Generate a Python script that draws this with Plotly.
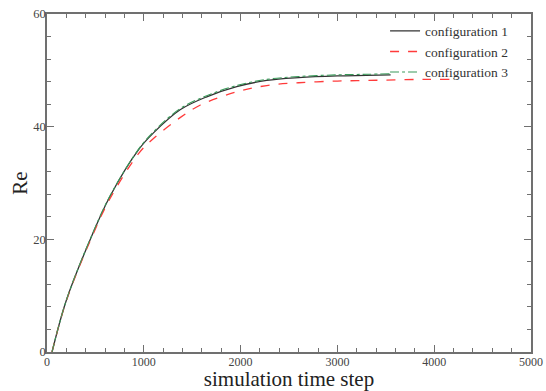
import plotly.graph_objects as go

t1 = [52, 200, 450, 650, 950, 1100, 1375, 1650, 1960, 2270, 2600, 3000, 3300, 3550]
re1 = [0, 9.2, 20.1, 27.6, 36.0, 38.9, 43.0, 45.3, 47.1, 48.2, 48.7, 49.0, 49.1, 49.2]

t2 = [52, 200, 450, 650, 950, 1100, 1375, 1580, 1960, 2270, 2600, 3000, 3300, 3600, 3900, 4160]
re2 = [0, 9.1, 19.9, 27.2, 35.3, 37.9, 41.6, 43.8, 46.2, 47.3, 47.8, 48.1, 48.2, 48.3, 48.4, 48.4]

t3 = [52, 200, 450, 650, 950, 1100, 1375, 1650, 1960, 2270, 2600, 3000, 3300, 3550]
re3 = [0, 9.2, 20.2, 27.7, 36.1, 39.1, 43.2, 45.5, 47.3, 48.4, 48.9, 49.2, 49.3, 49.4]

names = ["configuration 1", "configuration 2", "configuration 3"]

fig = go.Figure()
fig.add_trace(go.Scatter(x=t1, y=re1, mode="lines", name=names[0],
                         line=dict(color="#333333", width=1.3, shape="spline")))
fig.add_trace(go.Scatter(x=t2, y=re2, mode="lines", name=names[1],
                         line=dict(color="#ff3b3b", width=1.3, dash="dash", shape="spline")))
fig.add_trace(go.Scatter(x=t3, y=re3, mode="lines", name=names[2],
                         line=dict(color="#3a9a5a", width=1.1, dash="dashdot", shape="spline")))

axis_common = dict(
    showline=True, linecolor="#707070", linewidth=1.5, mirror="ticks",
    ticks="inside", ticklen=7, tickwidth=1.3, tickcolor="#707070",
    showgrid=False, zeroline=False, automargin=False,
)

fig.update_layout(
    width=546, height=391,
    margin=dict(l=47, r=15, t=14, b=39),
    paper_bgcolor="white", plot_bgcolor="white",
    xaxis=dict(range=[0, 5000], tickvals=[0, 1000, 2000, 3000, 4000, 5000],
               minor=dict(ticks="inside", dtick=200, ticklen=4, tickcolor="#707070", tickwidth=1.2),
               ticklabelstandoff=-2,
               tickfont=dict(family="Liberation Serif", size=12, color="#444444"),
               title=dict(text="simulation time step", standoff=2,
                          font=dict(family="Liberation Serif", size=21, color="#222222")),
               **axis_common),
    yaxis=dict(range=[0, 60], tickvals=[0, 20, 40, 60],
               minor=dict(ticks="inside", dtick=4, ticklen=4, tickcolor="#707070", tickwidth=1.2),
               ticklabelstandoff=-3,
               tickfont=dict(family="Liberation Serif", size=12.5, color="#444444"),
               title=dict(text="Re", standoff=0,
                          font=dict(family="Liberation Serif", size=21, color="#222222")),
               **axis_common),
    legend=dict(x=0.965, y=0.995, xanchor="right", yanchor="top",
                bgcolor="rgba(0,0,0,0)",
                font=dict(family="Liberation Serif", size=13.5, color="#333333"),
                tracegroupgap=0, itemwidth=30),
    showlegend=True,
)

fig.write_html(
    "out.html",
    config={"displayModeBar": False},
    post_script="document.body.style.margin='0';document.body.style.overflow='hidden';",
)
